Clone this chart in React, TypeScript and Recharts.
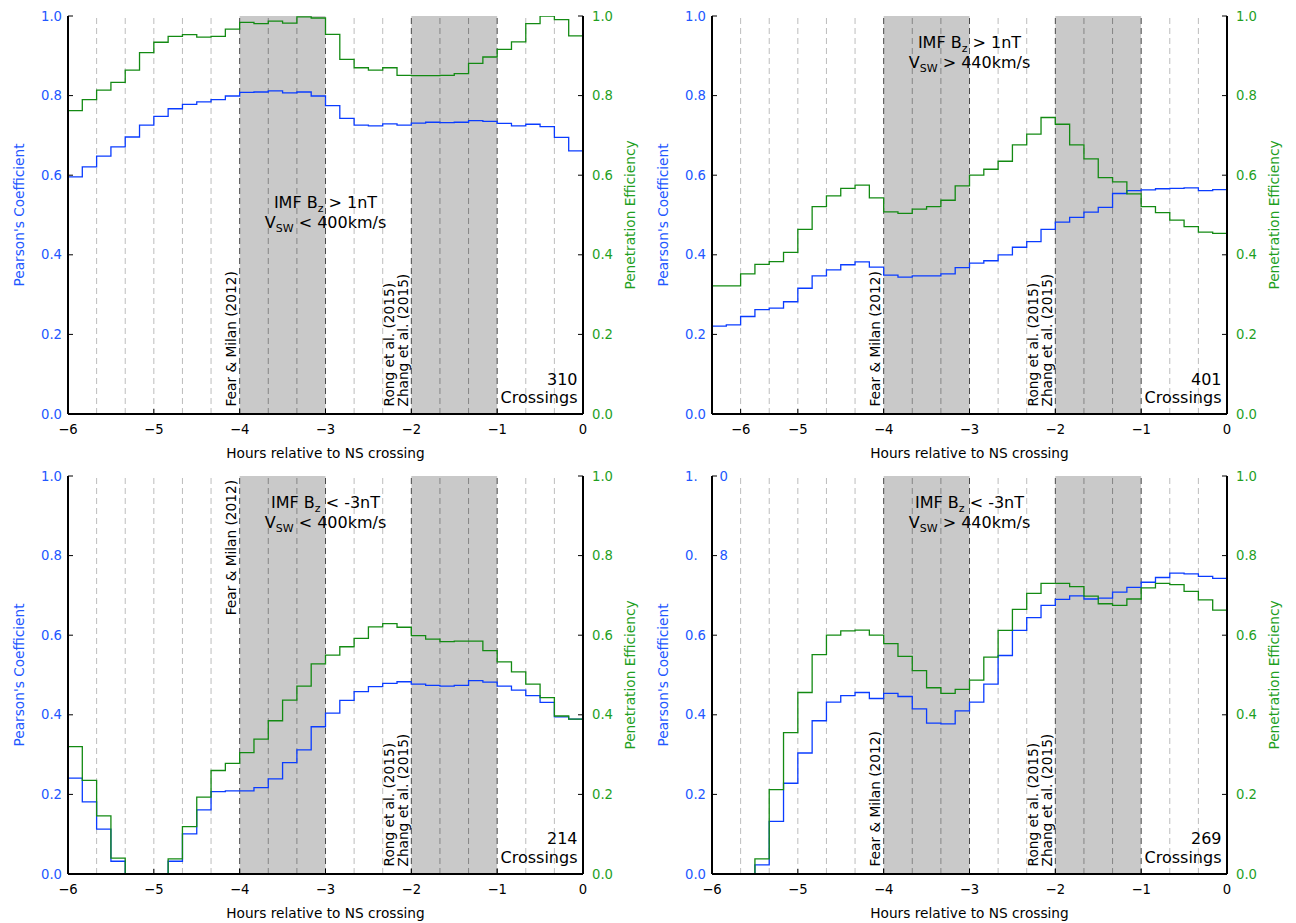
import React from 'react';
import { LineChart, Line, XAxis, YAxis, ReferenceArea, ReferenceLine } from 'recharts';

// 10-minute bins from -6 h to 0 h (bin edges; last edge repeats the final value)
const BIN_EDGES = [
  -36 / 6, -35 / 6, -34 / 6, -33 / 6, -32 / 6, -31 / 6, -30 / 6, -29 / 6, -28 / 6,
  -27 / 6, -26 / 6, -25 / 6, -24 / 6, -23 / 6, -22 / 6, -21 / 6, -20 / 6, -19 / 6,
  -18 / 6, -17 / 6, -16 / 6, -15 / 6, -14 / 6, -13 / 6, -12 / 6, -11 / 6, -10 / 6,
  -9 / 6, -8 / 6, -7 / 6, -6 / 6, -5 / 6, -4 / 6, -3 / 6, -2 / 6, -1 / 6, 0,
];

const X_TICKS = [-6, -5, -4, -3, -2, -1, 0];
const X_TICKS_TOP_RIGHT = [-17 / 3, -5, -4, -3, -2, -1, 0];
const Y_TICKS = [0, 0.2, 0.4, 0.6, 0.8, 1.0];
const GUIDES = [
  -17 / 3, -16 / 3, -5, -14 / 3, -13 / 3, -4, -11 / 3, -10 / 3, -3,
  -8 / 3, -7 / 3, -2, -5 / 3, -4 / 3, -1, -2 / 3, -1 / 3,
];
const WINDOWS = [[-4, -3], [-2, -1]];
const WINDOW_EDGES = [-4, -3, -2, -1];

// Bz > 1nT, Vsw < 400 km/s
const pearsonA = [0.596, 0.621, 0.648, 0.671, 0.696, 0.726, 0.748, 0.767, 0.778, 0.784, 0.790, 0.799,
  0.808, 0.809, 0.812, 0.807, 0.809, 0.799, 0.775, 0.743, 0.726, 0.724, 0.729, 0.726,
  0.731, 0.733, 0.732, 0.733, 0.737, 0.735, 0.730, 0.724, 0.728, 0.722, 0.695, 0.661];
const penetrationA = [0.762, 0.790, 0.814, 0.833, 0.864, 0.908, 0.934, 0.949, 0.953, 0.947, 0.949, 0.967,
  0.984, 0.981, 0.987, 0.982, 0.998, 0.995, 0.954, 0.891, 0.870, 0.864, 0.870, 0.851,
  0.850, 0.850, 0.851, 0.855, 0.881, 0.897, 0.916, 0.935, 0.981, 1.0, 0.991, 0.950];

// Bz > 1nT, Vsw > 440 km/s
const pearsonB = [0.221, 0.224, 0.245, 0.262, 0.266, 0.282, 0.316, 0.347, 0.362, 0.375, 0.382, 0.369,
  0.349, 0.344, 0.347, 0.347, 0.352, 0.368, 0.379, 0.385, 0.400, 0.419, 0.433, 0.464,
  0.482, 0.494, 0.507, 0.519, 0.554, 0.561, 0.563, 0.566, 0.567, 0.568, 0.561, 0.564];
const penetrationB = [0.322, 0.322, 0.352, 0.376, 0.383, 0.406, 0.464, 0.521, 0.548, 0.567, 0.575, 0.543,
  0.508, 0.504, 0.515, 0.521, 0.537, 0.573, 0.600, 0.615, 0.635, 0.676, 0.703, 0.745,
  0.728, 0.676, 0.641, 0.594, 0.583, 0.553, 0.521, 0.506, 0.487, 0.471, 0.457, 0.454];

// Bz < -3nT, Vsw < 400 km/s (negative bins fall below the axis)
const pearsonC = [0.241, 0.181, 0.113, 0.032, -0.05, -0.05, -0.05, 0.032, 0.101, 0.161, 0.207, 0.209,
  0.209, 0.217, 0.239, 0.280, 0.312, 0.370, 0.404, 0.436, 0.458, 0.471, 0.479, 0.483,
  0.477, 0.474, 0.472, 0.474, 0.486, 0.482, 0.472, 0.462, 0.448, 0.431, 0.395, 0.389];
const penetrationC = [0.320, 0.235, 0.146, 0.040, -0.05, -0.05, -0.05, 0.038, 0.119, 0.193, 0.260, 0.278,
  0.305, 0.339, 0.385, 0.437, 0.472, 0.528, 0.550, 0.571, 0.592, 0.621, 0.629, 0.620,
  0.599, 0.590, 0.584, 0.585, 0.585, 0.561, 0.533, 0.508, 0.477, 0.443, 0.397, 0.389];

// Bz < -3nT, Vsw > 440 km/s
const pearsonD = [-0.05, -0.05, -0.05, 0.023, 0.132, 0.228, 0.304, 0.385, 0.432, 0.448, 0.456, 0.441,
  0.454, 0.446, 0.415, 0.379, 0.377, 0.410, 0.432, 0.477, 0.549, 0.612, 0.644, 0.675,
  0.690, 0.699, 0.691, 0.693, 0.708, 0.720, 0.733, 0.745, 0.756, 0.754, 0.748, 0.743];
const penetrationD = [-0.05, -0.05, -0.05, 0.038, 0.212, 0.355, 0.456, 0.551, 0.600, 0.611, 0.613, 0.600,
  0.579, 0.547, 0.511, 0.468, 0.454, 0.464, 0.487, 0.545, 0.612, 0.665, 0.705, 0.730,
  0.730, 0.722, 0.698, 0.679, 0.675, 0.691, 0.719, 0.730, 0.727, 0.710, 0.689, 0.663];

const FONT = '"DejaVu Sans", Verdana, sans-serif';
const BLUE = '#0a3cff';
const BLUE_TEXT = '#2257ff';
const GREEN = '#138a13';
const GREEN_TEXT = '#1f9f1f';

const fmtHour = (v: number) => {
  const r = Math.round(v);
  return r === 0 ? '0' : '\u2212' + Math.abs(r);
};
const fmtVal = (v: number) => v.toFixed(1);

const guideColor = (g: number) => {
  if (WINDOW_EDGES.some((e) => Math.abs(e - g) < 1e-6)) return '#4a4a4a';
  if (WINDOWS.some(([a, b]) => g > a && g < b)) return '#858585';
  return '#bdbdbd';
};

const conditionLabel = (bz: string, vsw: string, dyTop: number) => (props: any) => {
  const vb = props.viewBox;
  if (!vb) return null;
  const x = vb.x;
  const y = vb.y + dyTop;
  return (
    <text x={x} y={y} textAnchor="middle" fontSize={16} fill="#000" fontFamily={FONT}>
      <tspan>IMF B</tspan>
      <tspan fontSize={11} dy={4}>z</tspan>
      <tspan dy={-4}>{` ${bz}`}</tspan>
      <tspan x={x} dy={20}>V</tspan>
      <tspan fontSize={11} dy={4}>SW</tspan>
      <tspan dy={-4}>{` ${vsw}`}</tspan>
    </text>
  );
};

const crossingsLabel = (n: number, gap: number) => (props: any) => {
  const vb = props.viewBox;
  if (!vb) return null;
  const x = vb.x - 5.5;
  const bottom = vb.y + vb.height;
  return (
    <g fontFamily={FONT} fontSize={16} fill="#000">
      <text x={x} y={bottom - gap - 18.5} textAnchor="end">{n}</text>
      <text x={x} y={bottom - gap} textAnchor="end">Crossings</text>
    </g>
  );
};

const fearLabel = (atTop: boolean) => (props: any) => {
  const vb = props.viewBox;
  if (!vb) return null;
  const ty = atTop ? vb.y + 4 : vb.y + vb.height - 7.5;
  return (
    <text
      transform={`translate(${vb.x - 3.5},${ty}) rotate(-90)`}
      textAnchor={atTop ? 'end' : 'start'}
      fontSize={13.7}
      fill="#000"
      fontFamily={FONT}
    >
      Fear &amp; Milan (2012)
    </text>
  );
};

const rongLabel = (props: any) => {
  const vb = props.viewBox;
  if (!vb) return null;
  const ty = vb.y + vb.height - 7.5;
  return (
    <g fontSize={13.7} fill="#000" fontFamily={FONT}>
      <text transform={`translate(${vb.x - 17.5},${ty}) rotate(-90)`}>Rong et al. (2015)</text>
      <text transform={`translate(${vb.x - 3.5},${ty}) rotate(-90)`}>Zhang et al. (2015)</text>
    </g>
  );
};

const xTitle = (props: any) => {
  const vb = props.viewBox;
  if (!vb) return null;
  return (
    <text x={vb.x + vb.width / 2} y={vb.y + 44} textAnchor="middle" fontSize={13.7} fill="#000" fontFamily={FONT}>
      Hours relative to NS crossing
    </text>
  );
};

const leftTitle = (props: any) => {
  const vb = props.viewBox;
  if (!vb) return null;
  const cx = vb.x + vb.width - 44;
  const cy = vb.y + vb.height / 2;
  return (
    <text transform={`translate(${cx},${cy}) rotate(-90)`} textAnchor="middle" fontSize={13.7} fill={BLUE_TEXT} fontFamily={FONT}>
      Pearson's Coefficient
    </text>
  );
};

const rightTitle = (props: any) => {
  const vb = props.viewBox;
  if (!vb) return null;
  const cx = vb.x + 51.5;
  const cy = vb.y + vb.height / 2;
  return (
    <text transform={`translate(${cx},${cy}) rotate(-90)`} textAnchor="middle" fontSize={13.7} fill={GREEN_TEXT} fontFamily={FONT}>
      Penetration Efficiency
    </text>
  );
};

// left tick labels of the last panel, where "1.0" and "0.8" come apart
const BrokenTick = (props: any) => {
  const { x, y, payload } = props;
  const label = fmtVal(payload.value);
  if (label === '1.0' || label === '0.8') {
    const head = label.slice(0, 2);
    const tail = label.slice(2);
    return (
      <g fontSize={13.2} fill={BLUE_TEXT} fontFamily={FONT}>
        <text x={x - 8.4} y={y} dy="0.355em" textAnchor="end">{head}</text>
        <text x={x + 13.5} y={y} dy="0.355em" textAnchor="start">{tail}</text>
      </g>
    );
  }
  return (
    <text x={x} y={y} dy="0.355em" textAnchor="end" fontSize={13.2} fill={BLUE_TEXT} fontFamily={FONT}>
      {label}
    </text>
  );
};

type PanelCfg = {
  left: number;
  top: number;
  height: number;
  xAxisHeight: number;
  pearson: number[];
  penetration: number[];
  bz: string;
  vsw: string;
  condTop: number;
  crossings: number;
  crossGap: number;
  fearTop: boolean;
  xTicks: number[];
  broken: boolean;
};

const PANELS: PanelCfg[] = [
  { left: 0, top: 0, height: 461, xAxisHeight: 47, pearson: pearsonA, penetration: penetrationA,
    bz: '> 1nT', vsw: '< 400km/s', condTop: 191.5, crossings: 310, crossGap: 11, fearTop: false, xTicks: X_TICKS, broken: false },
  { left: 644, top: 0, height: 461, xAxisHeight: 47, pearson: pearsonB, penetration: penetrationB,
    bz: '> 1nT', vsw: '> 440km/s', condTop: 31.5, crossings: 401, crossGap: 11, fearTop: false, xTicks: X_TICKS_TOP_RIGHT, broken: false },
  { left: 0, top: 460, height: 463, xAxisHeight: 49, pearson: pearsonC, penetration: penetrationC,
    bz: '< -3nT', vsw: '< 400km/s', condTop: 31.5, crossings: 214, crossGap: 11.5, fearTop: true, xTicks: X_TICKS, broken: false },
  { left: 644, top: 460, height: 463, xAxisHeight: 49, pearson: pearsonD, penetration: penetrationD,
    bz: '< -3nT', vsw: '> 440km/s', condTop: 31.5, crossings: 269, crossGap: 11.5, fearTop: false, xTicks: X_TICKS, broken: true },
];

function Panel({ cfg }: { cfg: PanelCfg }) {
  const rows = BIN_EDGES.map((h, i) => ({
    h,
    pc: cfg.pearson[Math.min(i, cfg.pearson.length - 1)],
    pe: cfg.penetration[Math.min(i, cfg.penetration.length - 1)],
  }));
  const frame = { stroke: '#000', strokeWidth: 2 };
  return (
    <div style={{ position: 'absolute', left: cfg.left, top: cfg.top }}>
      <LineChart width={648} height={cfg.height} data={rows} margin={{ top: 16, right: 0, bottom: 0, left: 0 }}>
        <XAxis
          dataKey="h"
          type="number"
          domain={[-6, 0]}
          allowDataOverflow
          ticks={cfg.xTicks}
          interval={0}
          height={cfg.xAxisHeight}
          tickSize={-5}
          tickMargin={16}
          tickFormatter={fmtHour}
          tick={{ fill: '#000', fontSize: 13.2 }}
          axisLine={frame}
          tickLine={{ stroke: '#000' }}
          label={xTitle}
        />
        <XAxis
          xAxisId="top"
          orientation="top"
          dataKey="h"
          type="number"
          domain={[-6, 0]}
          allowDataOverflow
          ticks={cfg.xTicks}
          interval={0}
          height={0}
          tickSize={-5}
          tick={false}
          axisLine={frame}
          tickLine={{ stroke: '#000' }}
        />
        <YAxis
          yAxisId="pc"
          type="number"
          domain={[0, 1]}
          allowDataOverflow
          ticks={Y_TICKS}
          interval={0}
          width={68}
          tickSize={-5}
          tickMargin={11}
          tickFormatter={fmtVal}
          tick={cfg.broken ? <BrokenTick /> : { fill: BLUE_TEXT, fontSize: 13.2 }}
          axisLine={frame}
          tickLine={{ stroke: '#000' }}
          label={leftTitle}
        />
        <YAxis
          yAxisId="pe"
          orientation="right"
          type="number"
          domain={[0, 1]}
          allowDataOverflow
          ticks={Y_TICKS}
          interval={0}
          width={65}
          tickSize={-5}
          tickMargin={14}
          tickFormatter={fmtVal}
          tick={{ fill: GREEN_TEXT, fontSize: 13.2 }}
          axisLine={frame}
          tickLine={{ stroke: '#000' }}
          label={rightTitle}
        />
        {WINDOWS.map(([a, b]) => (
          <ReferenceArea key={`w${a}`} yAxisId="pc" x1={a} x2={b} fill="#c9c9c9" fillOpacity={1} stroke="none" />
        ))}
        {GUIDES.map((g) => (
          <ReferenceLine key={`g${g}`} yAxisId="pc" x={g} stroke={guideColor(g)} strokeWidth={1} strokeDasharray="6 4" />
        ))}
        <Line
          yAxisId="pc"
          dataKey="pc"
          type="stepAfter"
          stroke={BLUE}
          strokeWidth={1.3}
          dot={false}
          activeDot={false}
          isAnimationActive={false}
        />
        <Line
          yAxisId="pe"
          dataKey="pe"
          type="stepAfter"
          stroke={GREEN}
          strokeWidth={1.3}
          dot={false}
          activeDot={false}
          isAnimationActive={false}
        />
        <ReferenceLine yAxisId="pc" x={-3} stroke="none" label={conditionLabel(cfg.bz, cfg.vsw, cfg.condTop)} />
        <ReferenceLine yAxisId="pc" x={-4} stroke="none" label={fearLabel(cfg.fearTop)} />
        <ReferenceLine yAxisId="pc" x={-2} stroke="none" label={rongLabel} />
        <ReferenceLine yAxisId="pc" x={0} stroke="none" label={crossingsLabel(cfg.crossings, cfg.crossGap)} />
      </LineChart>
    </div>
  );
}

export default function App() {
  return (
    <div
      style={{
        position: 'absolute',
        left: 0,
        top: 0,
        width: 1296,
        height: 923,
        background: '#fff',
        fontFamily: FONT,
        overflow: 'hidden',
      }}
    >
      {PANELS.map((cfg, i) => (
        <Panel key={i} cfg={cfg} />
      ))}
    </div>
  );
}
